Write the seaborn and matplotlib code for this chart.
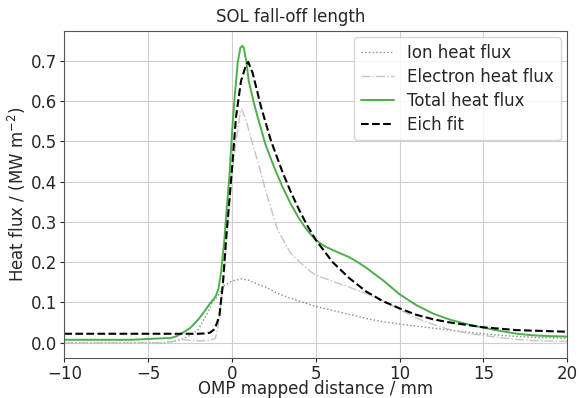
#!/usr/bin/env python
"""
SOL fall-off length: ion, electron and total heat flux profiles with Eich fit.
"""

import numpy as np
import pandas as pd
import matplotlib
matplotlib.use("Agg")
import matplotlib.pyplot as plt
import seaborn as sns

# --- data (OMP mapped distance in mm, heat flux in MW/m^2) ---
total_x = [-10, -6, -4.5, -4, -3.7, -3.3, -3.0, -2.5, -2.0, -1.6, -1.3, -1.1, -0.95, -0.8,
           -0.65, -0.45, -0.3, -0.15, 0.0, 0.15, 0.35, 0.5, 0.6, 0.7, 0.85, 1.0, 1.25, 1.5,
           2.0, 2.5, 3.0, 3.5, 4.0, 4.5, 5.0, 5.5, 6.0, 7.0, 7.5, 8.0, 9.0, 10, 11, 12, 13,
           14, 15, 16, 17, 18, 19, 20]
total_q = [0.007, 0.007, 0.010, 0.011, 0.011, 0.016, 0.023, 0.036, 0.058, 0.080, 0.098,
           0.108, 0.117, 0.135, 0.175, 0.258, 0.340, 0.415, 0.520, 0.605, 0.698, 0.732,
           0.737, 0.733, 0.700, 0.650, 0.605, 0.565, 0.492, 0.437, 0.388, 0.345, 0.308,
           0.278, 0.255, 0.240, 0.230, 0.212, 0.200, 0.186, 0.155, 0.120, 0.093, 0.072,
           0.057, 0.046, 0.037, 0.029, 0.022, 0.018, 0.016, 0.015]

eich_x = [-10, -5, -2.0, -1.5, -1.3, -1.05, -0.9, -0.75, -0.55, -0.35, -0.16, 0.04, 0.24,
          0.54, 0.84, 0.97, 1.23, 1.73, 2.32, 3.0, 3.5, 4.0, 4.5, 5.0, 6.0, 7.0, 8.0,
          9.0, 10, 11, 12, 13, 14, 15, 17, 20]
eich_q = [0.022, 0.022, 0.022, 0.023, 0.025, 0.033, 0.048, 0.067, 0.142, 0.258, 0.350,
          0.452, 0.560, 0.650, 0.690, 0.697, 0.670, 0.586, 0.502, 0.425, 0.375, 0.330,
          0.290, 0.255, 0.200, 0.160, 0.127, 0.103, 0.085, 0.069, 0.058, 0.050, 0.044,
          0.038, 0.031, 0.027]

electron_x = [-10, -5, -4, -3.5, -3.0, -2.6, -2.0, -1.3, -1.0, -0.85, -0.65, -0.45, -0.25,
              0.0, 0.24, 0.34, 0.5, 0.58, 0.84, 1.23, 1.63, 2.02, 2.72, 3.5, 4.5, 5.0, 6.0,
              6.9, 8.0, 9.0, 10, 11, 12, 13, 14, 15, 16, 17, 18, 20]
electron_q = [-0.001, -0.001, 0.000, 0.003, 0.008, 0.006, 0.004, 0.006, 0.010, 0.033,
              0.100, 0.175, 0.300, 0.420, 0.500, 0.527, 0.575, 0.580, 0.552, 0.494, 0.436,
              0.375, 0.280, 0.222, 0.182, 0.168, 0.152, 0.139, 0.122, 0.104, 0.082, 0.061,
              0.045, 0.032, 0.024, 0.018, 0.012, 0.008, 0.005, 0.003]

ion_x = [-10, -4, -3.5, -3.0, -2.5, -2.0, -1.5, -1.2, -0.95, -0.45, 0.0, 0.54, 1.0, 1.53,
         2.0, 2.72, 3.5, 4.7, 5.0, 6.0, 7.0, 8.0, 9.0, 10, 12, 14, 16, 18, 20]
ion_q = [0.000, 0.000, 0.003, 0.008, 0.018, 0.033, 0.070, 0.098, 0.110, 0.142, 0.153, 0.158,
         0.155, 0.145, 0.138, 0.122, 0.110, 0.094, 0.090, 0.080, 0.070, 0.060, 0.052, 0.046,
         0.036, 0.026, 0.018, 0.013, 0.011]

x_ticks = [-10, -5, 0, 5, 10, 15, 20]
y_ticks = [0.0, 0.1, 0.2, 0.3, 0.4, 0.5, 0.6, 0.7]


def main():
    sns.set_style("ticks", {"axes.grid": True, "grid.color": "#cfcfcf",
                            "axes.edgecolor": "#555555"})
    plt.rcParams["font.family"] = ["DejaVu Sans"]
    plt.rcParams["font.size"] = 12

    fig = plt.figure(figsize=(5.81, 3.98), dpi=100)
    ax = fig.add_axes([0.1107, 0.0997, 0.8657, 0.823])

    series = [
        (ion_x, ion_q, "Ion heat flux", dict(color="#888888", linestyle=":", linewidth=1.0)),
        (electron_x, electron_q, "Electron heat flux",
         dict(color="#c4c4c4", linestyle="-.", linewidth=1.0)),
        (total_x, total_q, "Total heat flux", dict(color="#4daf4a", linestyle="-", linewidth=1.4)),
        (eich_x, eich_q, "Eich fit", dict(color="black", linestyle="--", linewidth=1.5)),
    ]
    for xs, qs, label, style in series:
        df = pd.DataFrame({"x": xs, "q": qs})
        sns.lineplot(data=df, x="x", y="q", ax=ax, label=label, **style)

    ax.set_xlim(-10, 20)
    ax.set_ylim(-0.039, 0.7745)
    ax.set_xticks(x_ticks)
    ax.set_yticks(y_ticks)
    ax.tick_params(labelsize=12, length=3, pad=2)
    ax.set_xlabel("OMP mapped distance / mm", fontsize=12, labelpad=-2.5)
    ax.set_ylabel(r"Heat flux / (MW m$^{-2}$)", fontsize=12, labelpad=2)
    # title sits centred on the figure, not on the axes
    fig.suptitle("SOL fall-off length", fontsize=12, x=0.5, y=0.957, va="center")
    ax.legend(loc="upper right", fontsize=12, framealpha=0.8,
              labelspacing=0.35, borderaxespad=0.4)

    fig.savefig("out.png", dpi=100)
    plt.close(fig)


if __name__ == "__main__":
    main()
